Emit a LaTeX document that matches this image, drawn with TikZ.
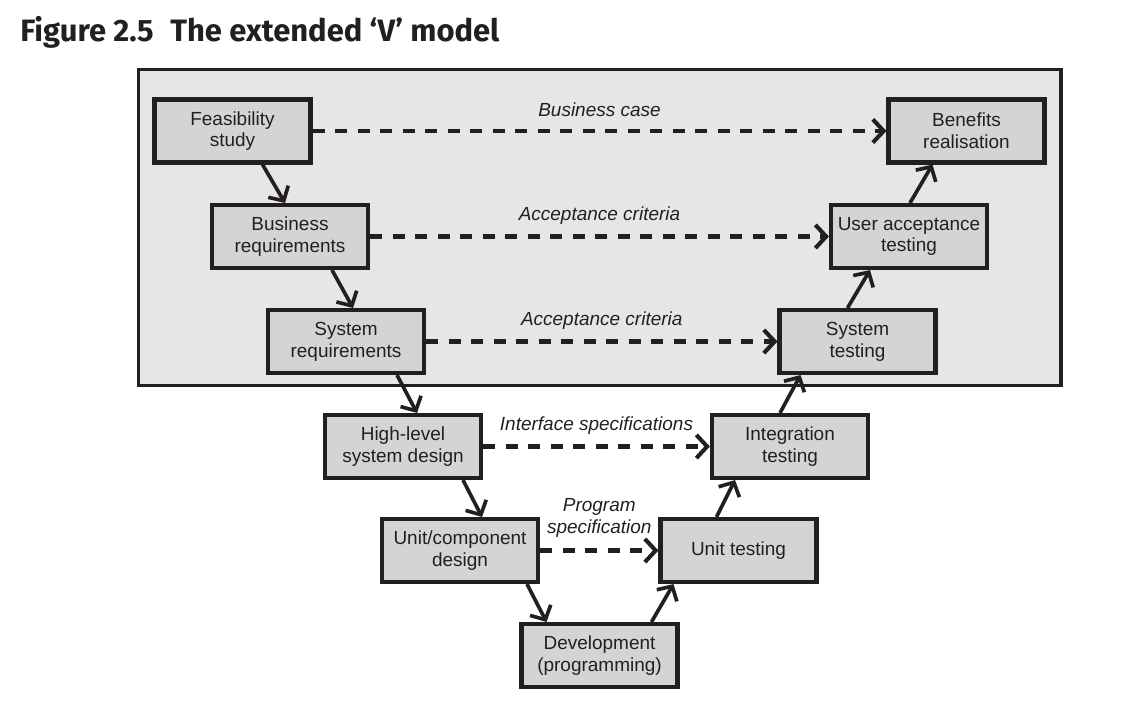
\documentclass[tikz,border=0pt]{standalone}
\usepackage{fontspec}
\setmainfont{Liberation Sans}
\newfontfamily\titlefont{Fira Sans}
\usetikzlibrary{positioning,arrows.meta,calc}
\definecolor{ink}{HTML}{231F20}
\definecolor{boxgray}{HTML}{D3D4D6}
\definecolor{panelgray}{HTML}{E6E6E6}

\begin{document}
\begin{tikzpicture}[x=0.025cm, y=-0.025cm,
    every node/.style={font=\fontsize{13.5}{15.5}\selectfont, text=ink},
    box/.style={draw=ink, fill=boxgray, line width=2.9pt, minimum width=3.9cm,
      minimum height=1.575cm, align=center, inner sep=2pt},
    flow/.style={draw=ink, line width=2.6pt, -{Straight Barb[length=2.7mm,width=5.8mm]}},
    link/.style={flow, line width=2.9pt, dash pattern=on 8.5pt off 7.5pt},
    lbl/.style={font=\fontsize{13.5}{15.5}\selectfont\itshape, align=center}]
    \useasboundingbox (0,0) rectangle (1123,711);

    % Title
    \node[anchor=base west, inner sep=0pt, font=\titlefont\bfseries\fontsize{22}{26}\selectfont]
      (title) at (20,41) {Figure 2.5\hspace{0.3em} The extended ‘V’ model};

    % Shaded panel round the top three rows
    \draw[draw=ink, fill=panelgray, line width=2.4pt] (138.5,69.5) rectangle (1061,385.5);

    % Left arm (down)
    \node[box] (fs)  at (232.5,131)  {Feasibility\\study};
    \node[box] (br)  at (290,236.5)  {Business\\requirements};
    \node[box] (sr)  at (346,341.5)  {System\\requirements};
    \node[box] (hld) at (403,446.5)  {High-level\\system design};
    \node[box] (ucd) at (460,550.5)  {Unit/component\\design};
    \node[box] (dev) at (599.5,655.5) {Development\\(programming)};

    % Right arm (up)
    \node[box] (ut)  at (738.5,550.5) {Unit testing};
    \node[box] (it)  at (790,446.5)  {Integration\\testing};
    \node[box] (st)  at (857.5,341.5) {System\\testing};
    \node[box] (uat) at (909,236.5)  {User acceptance\\testing};
    \node[box] (ben) at (966.5,131)  {Benefits\\realisation};

    % Flow down the V
    \draw[flow] ($(fs.south)+(30,0)$)  -- ($(br.north)+(-5,0)$);
    \draw[flow] ($(br.south)+(42,0)$)  -- ($(sr.north)+(7,0)$);
    \draw[flow] ($(sr.south)+(51,0)$)  -- ($(hld.north)+(14,0)$);
    \draw[flow] ($(hld.south)+(60,0)$) -- ($(ucd.north)+(22,0)$);
    \draw[flow] ($(ucd.south)+(67,0)$) -- ($(dev.north)+(-53,0)$);

    % Flow up the V
    \draw[flow] ($(dev.north)+(52,0)$) -- ($(ut.south)+(-65,0)$);
    \draw[flow] ($(ut.north)+(-22,0)$) -- ($(it.south)+(-55,0)$);
    \draw[flow] ($(it.north)+(-10,0)$) -- ($(st.south)+(-57,0)$);
    \draw[flow] ($(st.north)+(-10,0)$) -- ($(uat.south)+(-39,0)$);
    \draw[flow] ($(uat.north)+(1,0)$)  -- ($(ben.south)+(-34,0)$);

    % Links across the V
    \draw[link] (fs)  -- node[lbl, yshift=15pt] (l1) {Business case} (ben);
    \draw[link] (br)  -- node[lbl, yshift=15pt] (l2) {Acceptance criteria} (uat);
    \draw[link] (sr)  -- node[lbl, yshift=15pt] (l3) {Acceptance criteria} (st);
    \draw[link] (hld) -- node[lbl, yshift=15pt] (l4) {Interface specifications} (it);
    \draw[link] (ucd) -- node[lbl, yshift=23pt] (l5) {Program\\specification} (ut);
\end{tikzpicture}
\end{document}
